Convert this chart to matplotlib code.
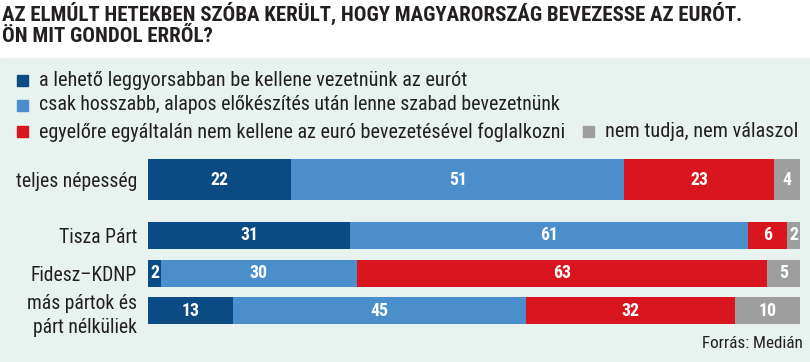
import os
import numpy as np
import matplotlib
matplotlib.use('Agg')
import matplotlib.pyplot as plt
from matplotlib import font_manager
from matplotlib.patches import Rectangle

#data (percent)
groups=['teljes népesség','Tisza Párt','Fidesz–KDNP','más pártok és\npárt nélküliek']
answers=['a lehető leggyorsabban be kellene vezetnünk az eurót',
         'csak hosszabb, alapos előkészítés után lenne szabad bevezetnünk',
         'egyelőre egyáltalán nem kellene az euró bevezetésével foglalkozni',
         'nem tudja, nem válaszol']
asap=[22,31,2,13]
later=[51,61,30,45]
not_now=[23,6,63,32]
dunno=[4,2,5,10]
title_lines=['AZ ELMÚLT HETEKBEN SZÓBA KERÜLT, HOGY MAGYARORSZÁG BEVEZESSE AZ EURÓT.',
             'ÖN MIT GONDOL ERRŐL?']
source='Forrás: Medián'

colours=['#0c4a84','#4a8fcb','#d9161f','#9e9e9e']
bg='#e8f3f0'
txt='#231f20'

W,H=810,362

#look for a narrow font, fall back to something plain
all_fonts=[f.fname for f in font_manager.fontManager.ttflist]
def pick(names):
    for n in names:
        for f in all_fonts:
            if os.path.basename(f).lower()==n.lower():
                return f
    return None

bold_file=pick(['RobotoCondensed-Bold.ttf','NotoSans-CondensedBold.ttf','LiberationSansNarrow-Bold.ttf',
                'DejaVuSansCondensed-Bold.ttf','Roboto-Bold.ttf'])
reg_file=pick(['RobotoCondensed-Regular.ttf','NotoSans-Condensed.ttf','LiberationSansNarrow-Regular.ttf',
               'DejaVuSansCondensed.ttf','Roboto-Regular.ttf'])
fp_bold=font_manager.FontProperties(fname=bold_file) if bold_file else font_manager.FontProperties(family='DejaVu Sans',weight='bold')
fp_reg=font_manager.FontProperties(fname=reg_file) if reg_file else font_manager.FontProperties(family='DejaVu Sans')

fig=plt.figure(figsize=(W/100,H/100),dpi=100,facecolor='white')
fig.patches.append(Rectangle((0,0),1,1-58/H,transform=fig.transFigure,color=bg,zorder=-10))
renderer=fig.canvas.get_renderer()

def px_text(x,y,s,fp,size,max_w=None,**kw):
    t=fig.text(x/W,1-y/H,s,fontproperties=fp,fontsize=size,color=kw.pop('color',txt),**kw)
    if max_w:
        w=t.get_window_extent(renderer).width
        if w>max_w:
            t.set_fontsize(size*max_w/w)
    return t

#title
t1=px_text(2,13,title_lines[0],fp_bold,16,max_w=740,va='center')
px_text(2,36,title_lines[1],fp_bold,t1.get_fontsize(),va='center')

#legend
leg_rows=[(17,80,0,430),(17,105,1,524),(17,132,2,528),(583,132,3,195)]
for x,y,k,w in leg_rows:
    fig.patches.append(Rectangle((x/W,1-(y+5.5)/H),11/W,11/H,transform=fig.transFigure,color=colours[k]))
    px_text(x+22,y,answers[k],fp_reg,14.6,max_w=w,va='center')

#bars
ypos=[0,1.475,2.475,3.475]
heights=[1.088,0.716,0.716,0.716]
ax=fig.add_axes([148/W,1-324.3/H,(800-148)/W,(324.3-159.3)/H])
ax.set_facecolor('none')
left=np.zeros(len(groups))
for vals,c in zip([asap,later,not_now,dunno],colours):
    bars=ax.barh(ypos,vals,left=left,height=heights,color=c,linewidth=0)
    ax.bar_label(bars,labels=[str(v) for v in vals],label_type='center',color='white',
                 fontproperties=fp_bold,fontsize=12.8)
    left+=np.array(vals)
ax.set_xlim(0,100)
ax.set_ylim(3.833,-0.544)
ax.set_yticks(ypos)
ax.set_yticklabels(groups,fontproperties=fp_reg,fontsize=14.1,color=txt,linespacing=1.35)
ax.tick_params(axis='y',length=0,pad=8)
ax.set_xticks([])
for s in ax.spines.values():
    s.set_visible(False)

px_text(803,343,source,fp_reg,13,max_w=101,ha='right',va='center')

fig.savefig('out.png',dpi=100,facecolor='white')
